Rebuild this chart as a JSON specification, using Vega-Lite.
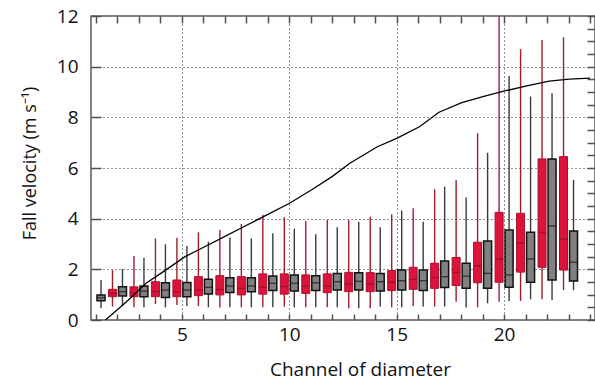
{
  "$schema": "https://vega.github.io/schema/vega-lite/v6.json",
  "width": 504,
  "height": 304,
  "autosize": {"type": "none"},
  "padding": {"left": 91, "top": 16, "right": 0, "bottom": 60},
  "background": "white",
  "config": {
    "view": {"stroke": "#5a5a5a", "strokeWidth": 1.5},
    "axis": {
      "labelFont": "Open Sans", "labelFontSize": 19, "labelColor": "#111",
      "titleFont": "Open Sans", "titleFontSize": 19, "titleFontWeight": "normal", "titleColor": "#111",
      "domain": false,
      "gridColor": "#222", "gridDash": [1, 3], "gridWidth": 1
    }
  },
  "datasets": {
    "boxes": [
      {"ch": 1, "s": "g", "lo": 0.47, "q1": 0.76, "med": 0.88, "q3": 0.99, "hi": 1.58},
      {"ch": 2, "s": "g", "lo": 0.55, "q1": 0.95, "med": 1.12, "q3": 1.31, "hi": 2.01},
      {"ch": 3, "s": "g", "lo": 0.5, "q1": 0.92, "med": 1.14, "q3": 1.34, "hi": 2.46},
      {"ch": 4, "s": "g", "lo": 0.5, "q1": 0.89, "med": 1.18, "q3": 1.47, "hi": 2.99},
      {"ch": 5, "s": "g", "lo": 0.55, "q1": 0.92, "med": 1.18, "q3": 1.48, "hi": 2.92},
      {"ch": 6, "s": "g", "lo": 0.5, "q1": 1.03, "med": 1.29, "q3": 1.61, "hi": 3.09},
      {"ch": 7, "s": "g", "lo": 0.5, "q1": 1.09, "med": 1.34, "q3": 1.67, "hi": 3.26},
      {"ch": 8, "s": "g", "lo": 0.5, "q1": 1.12, "med": 1.34, "q3": 1.67, "hi": 3.22},
      {"ch": 9, "s": "g", "lo": 0.5, "q1": 1.16, "med": 1.45, "q3": 1.74, "hi": 3.42},
      {"ch": 10, "s": "g", "lo": 0.5, "q1": 1.14, "med": 1.45, "q3": 1.78, "hi": 3.6},
      {"ch": 11, "s": "g", "lo": 0.5, "q1": 1.16, "med": 1.47, "q3": 1.75, "hi": 3.38},
      {"ch": 12, "s": "g", "lo": 0.5, "q1": 1.18, "med": 1.51, "q3": 1.84, "hi": 3.66},
      {"ch": 13, "s": "g", "lo": 0.46, "q1": 1.18, "med": 1.53, "q3": 1.87, "hi": 3.88},
      {"ch": 14, "s": "g", "lo": 0.53, "q1": 1.14, "med": 1.51, "q3": 1.84, "hi": 3.66},
      {"ch": 15, "s": "g", "lo": 0.5, "q1": 1.18, "med": 1.55, "q3": 1.97, "hi": 4.32},
      {"ch": 16, "s": "g", "lo": 0.53, "q1": 1.16, "med": 1.55, "q3": 1.97, "hi": 3.88},
      {"ch": 17, "s": "g", "lo": 0.53, "q1": 1.28, "med": 1.71, "q3": 2.33, "hi": 5.26},
      {"ch": 18, "s": "g", "lo": 0.49, "q1": 1.25, "med": 1.73, "q3": 2.24, "hi": 4.84},
      {"ch": 19, "s": "g", "lo": 0.66, "q1": 1.25, "med": 1.84, "q3": 3.12, "hi": 6.6},
      {"ch": 20, "s": "g", "lo": 0.75, "q1": 1.29, "med": 1.78, "q3": 3.55, "hi": 9.63},
      {"ch": 21, "s": "g", "lo": 0.82, "q1": 1.49, "med": 2.41, "q3": 3.46, "hi": 8.82},
      {"ch": 22, "s": "g", "lo": 0.79, "q1": 1.58, "med": 3.71, "q3": 6.36, "hi": 8.95},
      {"ch": 23, "s": "g", "lo": 1.18, "q1": 1.54, "med": 2.28, "q3": 3.51, "hi": 5.53},
      {"ch": 2, "s": "r", "lo": 0.53, "q1": 0.92, "med": 1.05, "q3": 1.21, "hi": 1.97},
      {"ch": 3, "s": "r", "lo": 0.5, "q1": 0.92, "med": 1.08, "q3": 1.31, "hi": 2.53},
      {"ch": 4, "s": "r", "lo": 0.63, "q1": 0.92, "med": 1.12, "q3": 1.51, "hi": 3.22},
      {"ch": 5, "s": "r", "lo": 0.59, "q1": 0.92, "med": 1.12, "q3": 1.58, "hi": 3.25},
      {"ch": 6, "s": "r", "lo": 0.55, "q1": 0.96, "med": 1.18, "q3": 1.71, "hi": 3.46},
      {"ch": 7, "s": "r", "lo": 0.49, "q1": 0.99, "med": 1.2, "q3": 1.75, "hi": 3.55},
      {"ch": 8, "s": "r", "lo": 0.5, "q1": 0.99, "med": 1.25, "q3": 1.71, "hi": 3.79},
      {"ch": 9, "s": "r", "lo": 0.5, "q1": 1.02, "med": 1.29, "q3": 1.82, "hi": 4.15},
      {"ch": 10, "s": "r", "lo": 0.53, "q1": 1.02, "med": 1.32, "q3": 1.82, "hi": 4.05},
      {"ch": 11, "s": "r", "lo": 0.5, "q1": 1.05, "med": 1.34, "q3": 1.78, "hi": 3.91},
      {"ch": 12, "s": "r", "lo": 0.5, "q1": 1.08, "med": 1.34, "q3": 1.82, "hi": 3.95},
      {"ch": 13, "s": "r", "lo": 0.46, "q1": 1.12, "med": 1.42, "q3": 1.88, "hi": 3.95},
      {"ch": 14, "s": "r", "lo": 0.46, "q1": 1.12, "med": 1.42, "q3": 1.87, "hi": 4.08},
      {"ch": 15, "s": "r", "lo": 0.5, "q1": 1.16, "med": 1.49, "q3": 1.95, "hi": 4.17},
      {"ch": 16, "s": "r", "lo": 0.55, "q1": 1.21, "med": 1.6, "q3": 2.08, "hi": 4.41},
      {"ch": 17, "s": "r", "lo": 0.53, "q1": 1.25, "med": 1.68, "q3": 2.24, "hi": 5.16},
      {"ch": 18, "s": "r", "lo": 0.72, "q1": 1.36, "med": 1.88, "q3": 2.47, "hi": 5.53},
      {"ch": 19, "s": "r", "lo": 0.5, "q1": 1.47, "med": 2.14, "q3": 3.07, "hi": 7.37},
      {"ch": 20, "s": "r", "lo": 0.72, "q1": 1.49, "med": 2.4, "q3": 4.25, "hi": 12.5},
      {"ch": 21, "s": "r", "lo": 0.75, "q1": 1.89, "med": 3.03, "q3": 4.21, "hi": 10.69},
      {"ch": 22, "s": "r", "lo": 0.82, "q1": 2.08, "med": 3.46, "q3": 6.36, "hi": 11.05},
      {"ch": 23, "s": "r", "lo": 1.18, "q1": 1.97, "med": 3.19, "q3": 6.45, "hi": 11.16}
    ],
    "curve": [
      {"ch": 1.44, "v": 0}, {"ch": 2.42, "v": 0.72}, {"ch": 3.33, "v": 1.45}, {"ch": 4.24, "v": 1.97},
      {"ch": 5.15, "v": 2.5}, {"ch": 6.06, "v": 2.89}, {"ch": 7.05, "v": 3.32}, {"ch": 7.74, "v": 3.62},
      {"ch": 8.8, "v": 4.08}, {"ch": 10.01, "v": 4.61}, {"ch": 11.08, "v": 5.16}, {"ch": 11.99, "v": 5.66},
      {"ch": 12.82, "v": 6.19}, {"ch": 14.1, "v": 6.84}, {"ch": 15.0, "v": 7.17}, {"ch": 16.06, "v": 7.63},
      {"ch": 16.97, "v": 8.2}, {"ch": 18.03, "v": 8.58}, {"ch": 19.1, "v": 8.84}, {"ch": 20.03, "v": 9.04},
      {"ch": 21.06, "v": 9.24}, {"ch": 22.1, "v": 9.43}, {"ch": 23.03, "v": 9.51}, {"ch": 24, "v": 9.55}
    ]
  },
  "layer": [
    {
      "data": {"name": "boxes"},
      "encoding": {
        "x": {
          "field": "ch", "type": "quantitative",
          "scale": {"domain": [1, 24], "nice": false, "zero": false},
          "axis": {
            "values": [1,2,3,4,5,6,7,8,9,10,11,12,13,14,15,16,17,18,19,20,21,22,23,24],
            "tickColor": "#505050", "tickWidth": 1.5,
            "offset": -6, "tickSize": 6, "labelPadding": 5,
            "labelExpr": "datum.value % 5 === 0 ? datum.label : ''",
            "grid": true,
            "gridOpacity": {"condition": {"test": "datum.value % 5 === 0", "value": 1}, "value": 0},
            "title": "Channel of diameter", "titleX": 269, "titleY": 61, "titleBaseline": "alphabetic", "titleAlign": "center"
          }
        }
      },
      "layer": [
        {
          "transform": [{"filter": "datum.s === 'r'"}],
          "mark": {"type": "rule", "color": "#a31b2c", "strokeWidth": 1.4, "xOffset": -5, "clip": true},
          "encoding": {
            "y": {"field": "lo", "type": "quantitative", "scale": {"domain": [0, 12], "nice": false},
              "axis": {
                "values": [0,0.5,1,1.5,2,2.5,3,3.5,4,4.5,5,5.5,6,6.5,7,7.5,8,8.5,9,9.5,10,10.5,11,11.5,12],
                "tickColor": "#505050", "tickWidth": 1.5,
                "offset": -10, "tickSize": 10, "labelPadding": 13,
                "labelExpr": "datum.value % 2 === 0 ? datum.label : ''",
                "grid": true,
                "gridOpacity": {"condition": {"test": "datum.value % 2 === 0 && datum.value > 0 && datum.value < 12", "value": 1}, "value": 0},
                "title": "Fall velocity (m s⁻¹)", "titleFontSize": 18, "titleX": -66, "titleY": 147, "titleAngle": -90, "titleBaseline": "alphabetic", "titleAlign": "center"
              }
            },
            "y2": {"field": "hi"}
          }
        },
        {
          "transform": [{"filter": "datum.s === 'g'"}],
          "mark": {"type": "rule", "color": "#3a3a3a", "strokeWidth": 1.4, "xOffset": 5, "clip": true},
          "encoding": {
            "y": {"field": "lo", "type": "quantitative"},
            "y2": {"field": "hi"}
          }
        },
        {
          "transform": [{"filter": "datum.s === 'r'"}],
          "mark": {"type": "bar", "width": 8, "fill": "#dc143c", "stroke": "#a8102e", "strokeWidth": 1, "xOffset": -5, "clip": true},
          "encoding": {
            "y": {"field": "q1", "type": "quantitative"},
            "y2": {"field": "q3"}
          }
        },
        {
          "transform": [{"filter": "datum.s === 'g'"}],
          "mark": {"type": "bar", "width": 8, "fill": "#808080", "stroke": "#111111", "strokeWidth": 1.5, "xOffset": 5, "clip": true},
          "encoding": {
            "y": {"field": "q1", "type": "quantitative"},
            "y2": {"field": "q3"}
          }
        },
        {
          "transform": [{"filter": "datum.s === 'r'"}],
          "mark": {"type": "tick", "orient": "horizontal", "size": 8, "thickness": 1.3, "color": "#8b0a1e", "xOffset": -5},
          "encoding": {
            "y": {"field": "med", "type": "quantitative"}
          }
        },
        {
          "transform": [{"filter": "datum.s === 'g'"}],
          "mark": {"type": "tick", "orient": "horizontal", "size": 8, "thickness": 1.3, "color": "#111111", "xOffset": 5},
          "encoding": {
            "y": {"field": "med", "type": "quantitative"}
          }
        }
      ]
    },
    {
      "data": {"name": "curve"},
      "mark": {"type": "line", "color": "#000000", "strokeWidth": 1.3, "clip": true},
      "encoding": {
        "x": {
          "field": "ch", "type": "quantitative",
          "scale": {"domain": [1, 24], "nice": false, "zero": false},
          "axis": {
            "orient": "top",
            "values": [1,2,3,4,5,6,7,8,9,10,11,12,13,14,15,16,17,18,19,20,21,22,23,24],
            "tickColor": "#505050", "tickWidth": 1.5,
            "tickSize": -7, "labelExpr": "''", "grid": false, "title": null
          }
        },
        "y": {
          "field": "v", "type": "quantitative",
          "scale": {"domain": [0, 12], "nice": false},
          "axis": {
            "orient": "right",
            "values": [0,0.5,1,1.5,2,2.5,3,3.5,4,4.5,5,5.5,6,6.5,7,7.5,8,8.5,9,9.5,10,10.5,11,11.5,12],
            "tickColor": "#505050", "tickWidth": 1.5,
            "tickSize": -8, "labelExpr": "''", "grid": false, "title": null
          }
        }
      }
    }
  ],
  "resolve": {"axis": {"x": "independent", "y": "independent"}}
}
